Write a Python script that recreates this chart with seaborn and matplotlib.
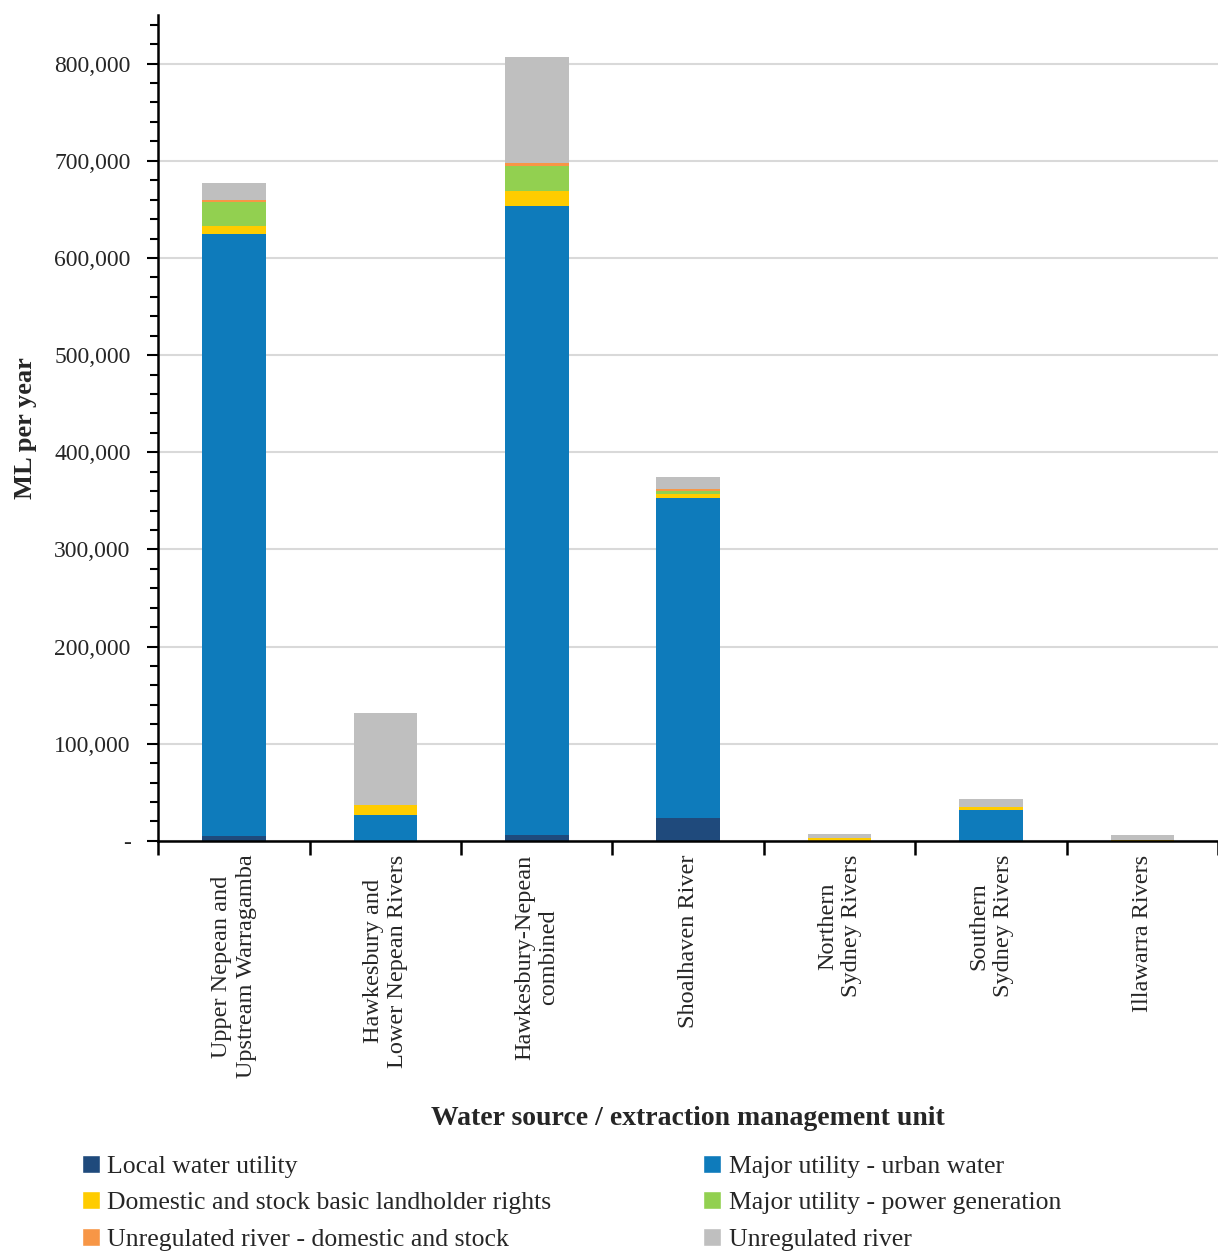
import numpy as np
import pandas as pd
import matplotlib
matplotlib.use("Agg")
import matplotlib.pyplot as plt
import matplotlib.ticker as mticker
from matplotlib.patches import Patch
import seaborn as sns

# Data (ML per year)
units = ["Upper Nepean and\nUpstream Warragamba",
         "Hawkesbury and\nLower Nepean Rivers",
         "Hawkesbury-Nepean\ncombined",
         "Shoalhaven River",
         "Northern\nSydney Rivers",
         "Southern\nSydney Rivers",
         "Illawarra Rivers"]
local_utility = [5000, 0, 6500, 23600, 0, 0, 0]
urban_water = [620000, 26700, 646500, 329000, 0, 31800, 0]
domestic_stock = [8000, 10000, 16400, 4000, 2500, 3400, 500]
power_generation = [25000, 0, 25600, 3400, 0, 0, 0]
unreg_domestic = [1500, 600, 3000, 1700, 0, 0, 0]
unreg_river = [18000, 94400, 109000, 13000, 5000, 7900, 5500]

series_names = ["Local water utility",
                "Major utility - urban water",
                "Domestic and stock basic landholder rights",
                "Major utility - power generation",
                "Unregulated river - domestic and stock",
                "Unregulated river"]
series_colors = ["#1F4A7C", "#0E7BBB", "#FFCC00", "#92D050", "#F79646", "#BFBFBF"]

df = pd.DataFrame({"unit": units,
                   series_names[0]: local_utility,
                   series_names[1]: urban_water,
                   series_names[2]: domestic_stock,
                   series_names[3]: power_generation,
                   series_names[4]: unreg_domestic,
                   series_names[5]: unreg_river})
cum = df[series_names].cumsum(axis=1)

sns.set_style("white")
plt.rcParams["font.family"] = ["Liberation Serif", "DejaVu Serif"]

fig = plt.figure(figsize=(12.18, 12.55), dpi=100)
ax = fig.add_axes([0.13, 0.33, 0.87, 0.658])

# draw cumulative totals from the top layer down so each segment shows
for name, color in zip(series_names[::-1], series_colors[::-1]):
    sns.barplot(x=df["unit"], y=cum[name], color=color, width=0.42,
                linewidth=0, saturation=1, ax=ax)

ax.set_ylim(0, 850000)
ax.set_xlim(-0.5, 6.5)
ax.yaxis.set_major_locator(mticker.MultipleLocator(100000))
ax.yaxis.set_minor_locator(mticker.MultipleLocator(20000))
ax.yaxis.set_major_formatter(mticker.FuncFormatter(
    lambda v, p: "-" if v == 0 else f"{v:,.0f}"))
ax.grid(axis="y", which="major", color="#D9D9D9", linewidth=1.5)
ax.set_axisbelow(True)

for s in ["top", "right"]:
    ax.spines[s].set_visible(False)
for s in ["left", "bottom"]:
    ax.spines[s].set_color("black")
    ax.spines[s].set_linewidth(1.8)

ax.tick_params(axis="y", which="major", length=8, width=1.5, color="black",
               labelsize=17, pad=12, direction="out", left=True)
ax.tick_params(axis="y", which="minor", length=6, width=1.5, color="black",
               direction="out", left=True)

# category labels at centres, tick marks between categories
ax.set_xticks(range(len(units)))
ax.set_xticklabels(units, rotation=90, ha="center", va="top",
                   multialignment="center", fontsize=17.5)
ax.tick_params(axis="x", which="major", length=0, pad=10)
ax.set_xticks(np.arange(-0.5, len(units), 1.0), minor=True)
ax.tick_params(axis="x", which="minor", length=10, width=1.8, color="black",
               direction="out", bottom=True)

ax.set_ylabel("ML per year", fontsize=19, fontweight="bold", labelpad=12)
ax.set_xlabel("Water source / extraction management unit", fontsize=20,
              fontweight="bold", labelpad=20)

handles = [Patch(facecolor=c, label=n) for n, c in zip(series_names, series_colors)]
order = [0, 2, 4, 1, 3, 5]
fig.legend([handles[i] for i in order], [series_names[i] for i in order],
           ncol=2, loc="lower left", bbox_to_anchor=(0.048, -0.015),
           frameon=False, fontsize=18.5, handlelength=0.7, handleheight=0.7,
           handletextpad=0.3, columnspacing=5.9, labelspacing=0.52)

fig.savefig("out.png", dpi=100)
